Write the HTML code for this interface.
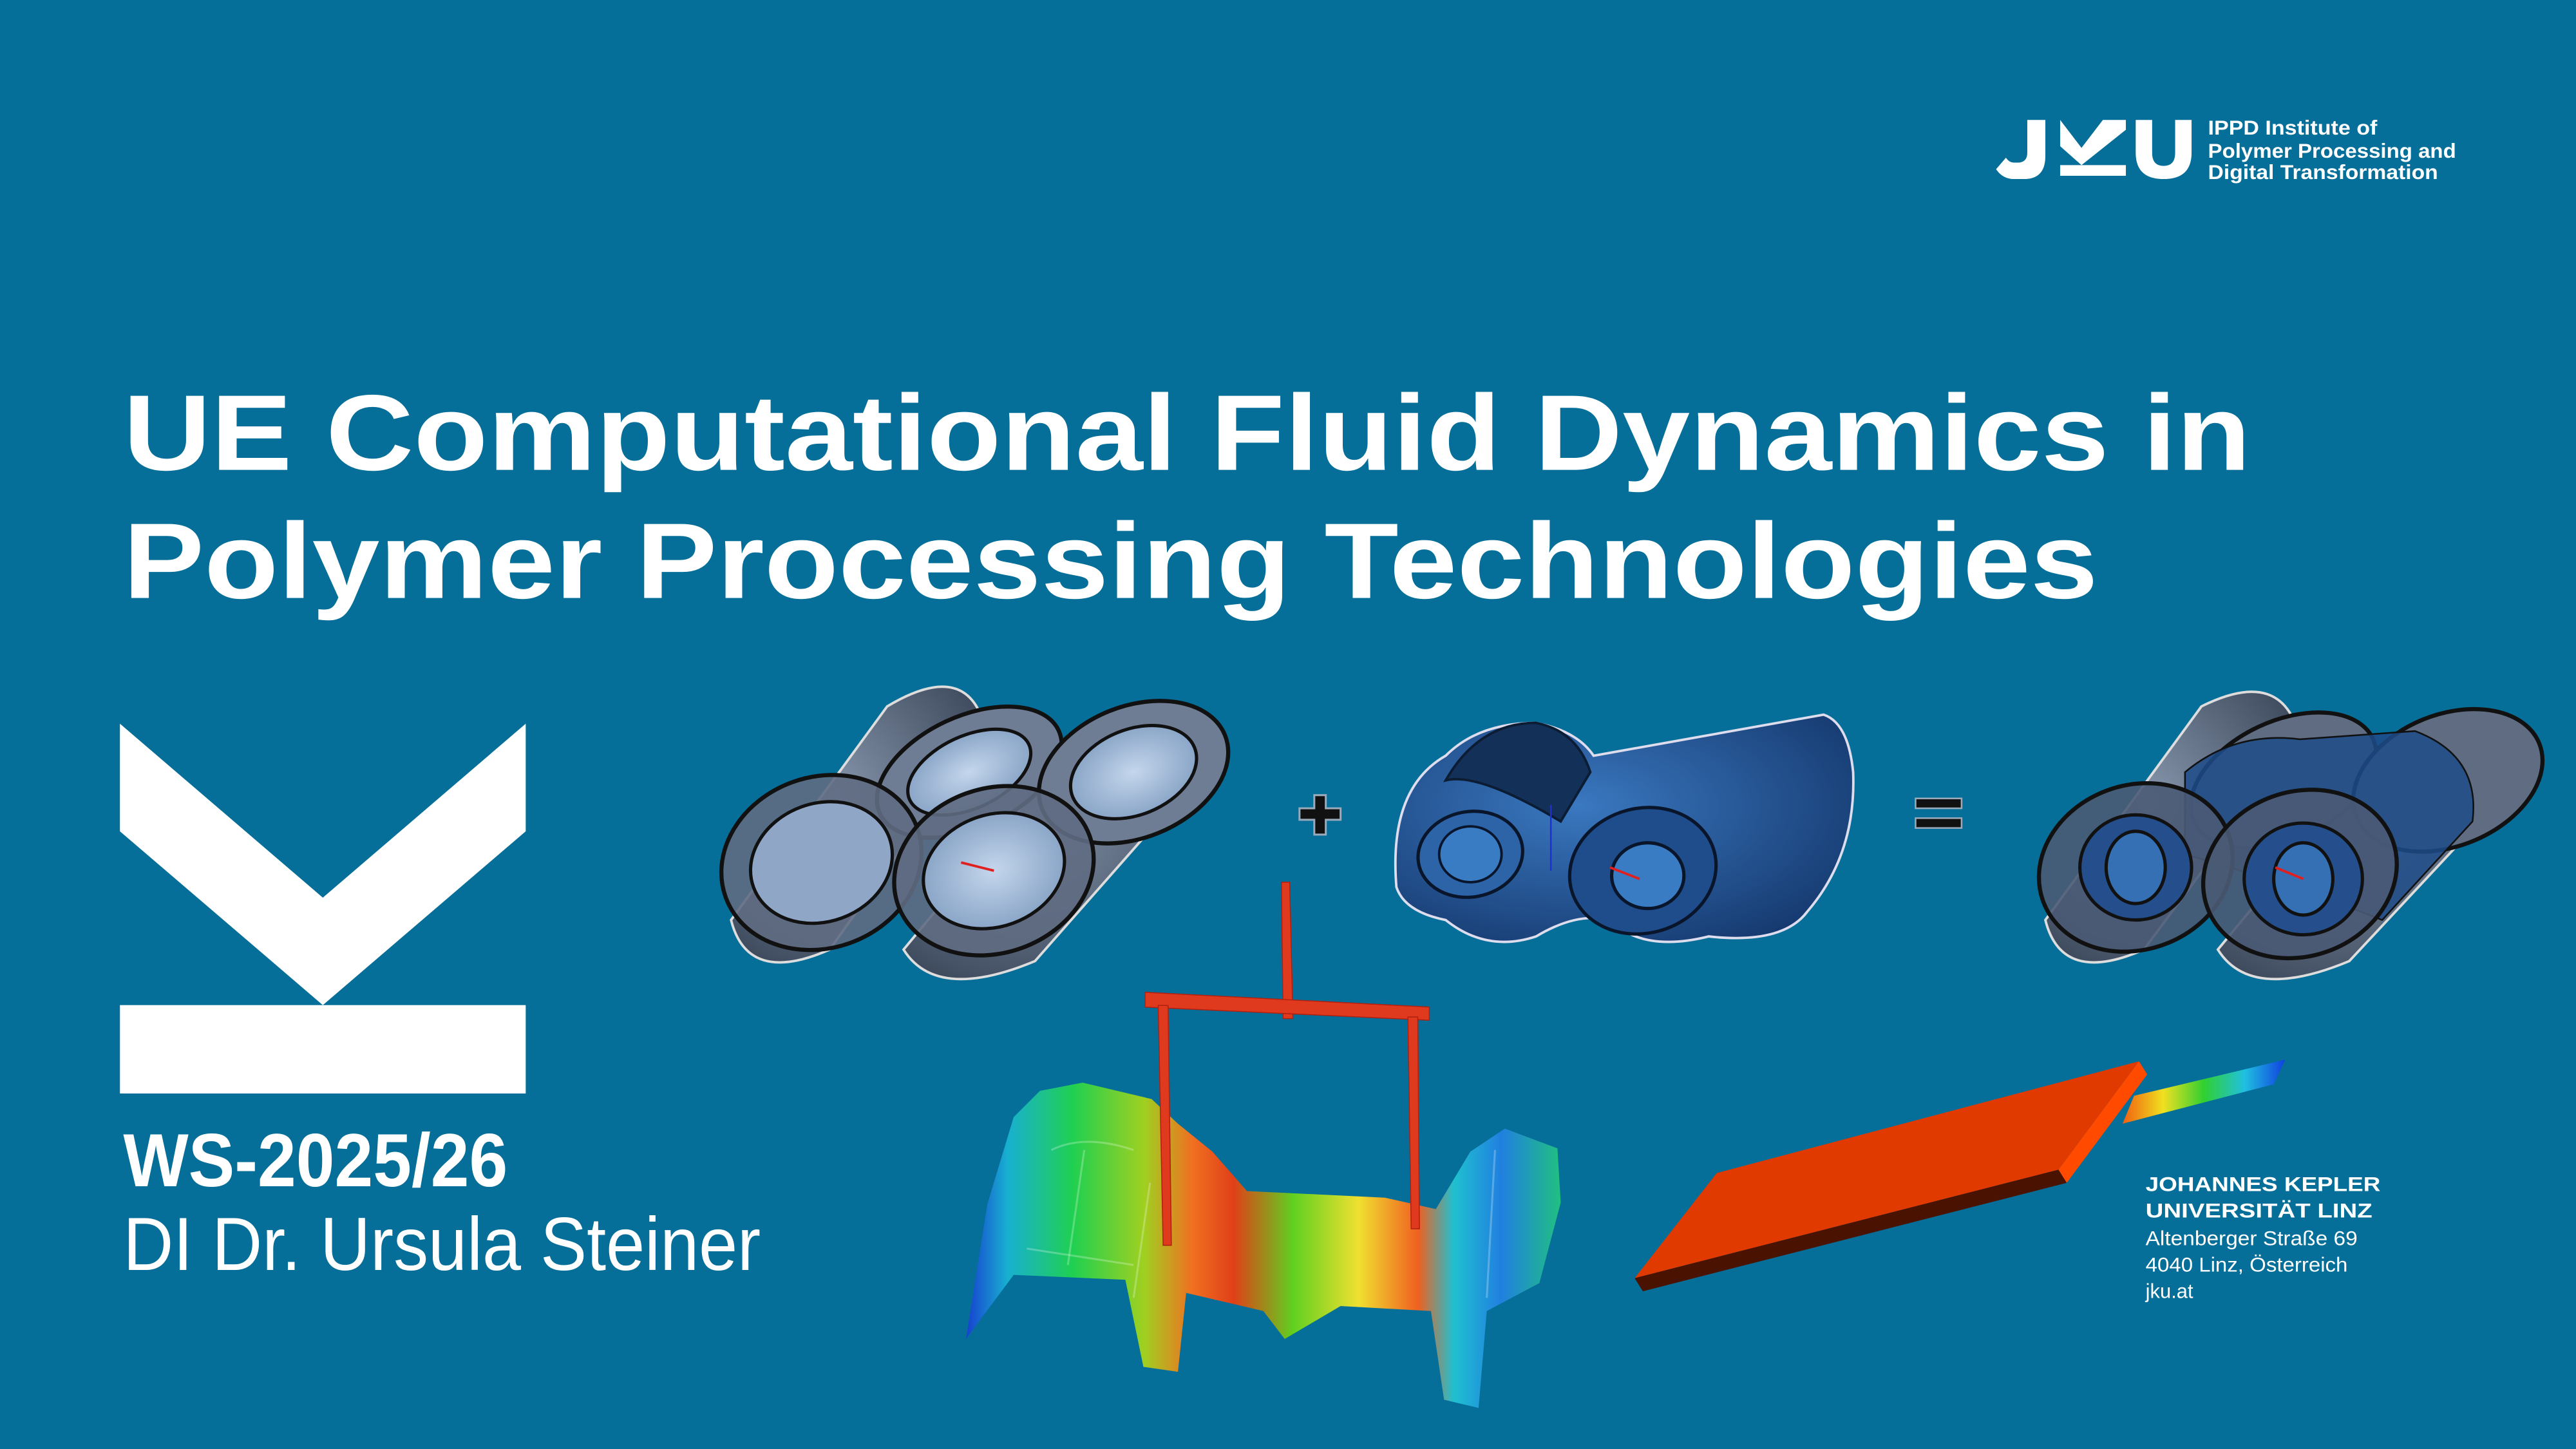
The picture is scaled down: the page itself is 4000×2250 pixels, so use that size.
<!DOCTYPE html>
<html><head><meta charset="utf-8"><style>
html,body{margin:0;padding:0;background:#066f99;}
svg{display:block;}
</style></head><body>
<svg width="4000" height="2250" viewBox="0 0 1568 882" xmlns="http://www.w3.org/2000/svg" font-family="'Liberation Sans', Arial, sans-serif">
<defs>
<linearGradient id="car" x1="588" y1="0" x2="950" y2="0" gradientUnits="userSpaceOnUse">
<stop offset="0" stop-color="#1740d0"/><stop offset="0.07" stop-color="#18b0d0"/><stop offset="0.18" stop-color="#20d050"/><stop offset="0.3" stop-color="#a0d020"/><stop offset="0.38" stop-color="#f07020"/><stop offset="0.45" stop-color="#e04018"/><stop offset="0.55" stop-color="#60d020"/><stop offset="0.66" stop-color="#f0e030"/><stop offset="0.76" stop-color="#f06020"/><stop offset="0.82" stop-color="#20c0d0"/><stop offset="0.9" stop-color="#2080e0"/><stop offset="1" stop-color="#20c080"/>
</linearGradient>
<linearGradient id="strip" x1="1292" y1="0" x2="1391" y2="0" gradientUnits="userSpaceOnUse">
<stop offset="0" stop-color="#f06010"/><stop offset="0.25" stop-color="#f0e020"/><stop offset="0.5" stop-color="#30d030"/><stop offset="0.75" stop-color="#20c0e0"/><stop offset="1" stop-color="#1040e0"/>
</linearGradient>
<radialGradient id="gr" cx="0.4" cy="0.4" r="0.7"><stop offset="0" stop-color="#8796ad"/><stop offset="1" stop-color="#3a4658"/></radialGradient>
<radialGradient id="bl" cx="0.4" cy="0.4" r="0.7"><stop offset="0" stop-color="#3a78c0"/><stop offset="1" stop-color="#163a70"/></radialGradient>
<radialGradient id="lt" cx="0.5" cy="0.5" r="0.6"><stop offset="0" stop-color="#c4d6ec"/><stop offset="1" stop-color="#7f9cc0"/></radialGradient>
</defs>
<rect width="1568" height="882" fill="#066f99"/>

<g fill="#fff">
<path d="M1234,73 h11 v22 q0,14 -13,14 h-6 q-7,0 -11,-6 l6,-7 q2,3 5,3 h2 q6,0 6,-6 z"/>
<polygon points="1254,73 1267,90 1280,73 1294,73 1294,79 1267,100.5 1254,89"/>
<rect x="1254" y="100.5" width="40" height="6.5"/>
<path d="M1300,73 h10 v20 q0,8 7,8 q7,0 7,-8 v-20 h10 v20 q0,16 -17,16 q-17,0 -17,-16 z"/>
</g>
<g fill="#fff" font-weight="bold" font-size="12.3">
<text x="1344" y="82" textLength="103" lengthAdjust="spacingAndGlyphs">IPPD Institute of</text>
<text x="1344" y="96" textLength="151" lengthAdjust="spacingAndGlyphs">Polymer Processing and</text>
<text x="1344" y="109" textLength="140" lengthAdjust="spacingAndGlyphs">Digital Transformation</text>
</g>

<g fill="#fff" font-weight="bold" font-size="65.5">
<text x="75" y="286" textLength="1295" lengthAdjust="spacingAndGlyphs">UE Computational Fluid Dynamics in</text>
<text x="75" y="364" textLength="1202" lengthAdjust="spacingAndGlyphs">Polymer Processing Technologies</text>
</g>

<g fill="#fff">
<polygon points="73,440.5 196.5,546.4 320,440.5 320,506 196.5,611.8 73,506"/>
<rect x="73" y="611.8" width="247" height="53.8"/>
</g>
<text x="75" y="722" fill="#fff" font-weight="bold" font-size="46" textLength="234" lengthAdjust="spacingAndGlyphs">WS-2025/26</text>
<text x="75" y="773" fill="#fff" font-size="46" textLength="388" lengthAdjust="spacingAndGlyphs">DI Dr. Ursula Steiner</text>

<g stroke="#111" stroke-width="2.5">
<path d="M445,560 L540,430 Q590,400 600,445 L505,578 Q455,600 445,560 Z" fill="url(#gr)" stroke="#ddd" stroke-width="1.5"/>
<path d="M550,578 L660,445 Q720,410 740,460 L630,585 Q570,610 550,578 Z" fill="url(#gr)" stroke="#ddd" stroke-width="1.5"/>
<ellipse cx="590" cy="470" rx="60" ry="34" transform="rotate(-25 590 470)" fill="#6e7d94"/>
<ellipse cx="590" cy="470" rx="40" ry="22" transform="rotate(-25 590 470)" fill="url(#lt)" stroke-width="2"/>
<ellipse cx="690" cy="470" rx="60" ry="40" transform="rotate(-22 690 470)" fill="#6e7d94"/>
<ellipse cx="690" cy="470" rx="40" ry="26" transform="rotate(-22 690 470)" fill="url(#lt)" stroke-width="2"/>
<ellipse cx="500" cy="525" rx="62" ry="52" transform="rotate(-20 500 525)" fill="#5f6c82" fill-opacity="0.9"/>
<ellipse cx="500" cy="525" rx="44" ry="36" transform="rotate(-20 500 525)" fill="#8fa6c6" stroke-width="2"/>
<ellipse cx="605" cy="530" rx="62" ry="50" transform="rotate(-20 605 530)" fill="#5f6c82" fill-opacity="0.9"/>
<ellipse cx="605" cy="530" rx="44" ry="34" transform="rotate(-20 605 530)" fill="url(#lt)" stroke-width="2"/>
</g>
<line x1="585" y1="525" x2="605" y2="530" stroke="#e02020" stroke-width="1.5"/>

<path d="M800,484 h7 v8 h9 v7 h-9 v9 h-7 v-9 h-9 v-7 h9 z" fill="#111" stroke="#9ab" stroke-width="1.2"/>

<g stroke="#0b1c33" stroke-width="1.5">
<path d="M850,540 Q845,480 880,460 Q900,440 935,440 Q960,445 970,460 L1110,435 Q1125,440 1128,470 Q1130,520 1100,555 Q1085,575 1040,570 Q1000,580 980,560 Q960,555 935,570 Q905,580 880,560 Q855,555 850,540 Z" fill="url(#bl)" stroke="#dde" stroke-width="1.5"/>
<path d="M935,440 Q960,445 968,470 L950,500 Q900,470 880,475 Q900,440 935,440 Z" fill="#123058"/>
<ellipse cx="895" cy="520" rx="32" ry="26" transform="rotate(-10 895 520)" fill="#2d64a8" stroke="#08152a" stroke-width="2"/>
<ellipse cx="895" cy="520" rx="19" ry="17" fill="#3a7cc4" stroke="#08152a"/>
<ellipse cx="1000" cy="530" rx="45" ry="38" transform="rotate(-15 1000 530)" fill="#1f4c8a" stroke="#08152a" stroke-width="2"/>
<ellipse cx="1003" cy="533" rx="22" ry="20" fill="#3a7cc4" stroke="#08152a" stroke-width="2"/>
</g>
<line x1="980" y1="528" x2="998" y2="535" stroke="#e02020" stroke-width="1.5"/>
<line x1="944" y1="490" x2="944" y2="530" stroke="#2030d0" stroke-width="1"/>

<rect x="1166" y="486" width="28" height="6" fill="#111" stroke="#9ab" stroke-width="1"/>
<rect x="1166" y="498" width="28" height="6" fill="#111" stroke="#9ab" stroke-width="1"/>

<g stroke="#111" stroke-width="2.5">
<path d="M1245,560 L1340,430 Q1390,405 1400,450 L1305,578 Q1255,600 1245,560 Z" fill="url(#gr)" stroke="#ddd" stroke-width="1.5"/>
<path d="M1350,578 L1460,445 Q1520,415 1542,465 L1430,585 Q1370,610 1350,578 Z" fill="url(#gr)" stroke="#ddd" stroke-width="1.5"/>
<ellipse cx="1390" cy="475" rx="60" ry="36" transform="rotate(-25 1390 475)" fill="#5f6c82"/>
<ellipse cx="1490" cy="475" rx="60" ry="40" transform="rotate(-22 1490 475)" fill="#5f6c82"/>
<path d="M1330,470 Q1360,445 1400,450 L1470,445 Q1510,460 1505,500 L1450,560 Q1400,540 1330,520 Z" fill="#1f4c8a" fill-opacity="0.85" stroke-width="1"/>
<ellipse cx="1300" cy="528" rx="60" ry="50" transform="rotate(-20 1300 528)" fill="#4a5a74" fill-opacity="0.9"/>
<ellipse cx="1300" cy="528" rx="34" ry="32" fill="#244f8c" stroke-width="2"/>
<ellipse cx="1300" cy="528" rx="18" ry="22" fill="#3570b4" stroke-width="2"/>
<ellipse cx="1400" cy="532" rx="60" ry="50" transform="rotate(-20 1400 532)" fill="#4a5a74" fill-opacity="0.9"/>
<ellipse cx="1402" cy="535" rx="36" ry="34" fill="#244f8c" stroke-width="2"/>
<ellipse cx="1402" cy="535" rx="18" ry="22" fill="#3570b4" stroke-width="2"/>
</g>
<line x1="1385" y1="528" x2="1402" y2="535" stroke="#e02020" stroke-width="1.5"/>

<polygon fill="url(#car)" points="617,680 633,664 659,659 701,669 717,684 738,701 759,725 843,729 874,736 895,701 916,687 948,699 950,732 937,781 905,798 900,857 879,852 871,798 816,795 782,815 769,798 722,787 717,835 696,832 685,779 617,776 588,815 601,733"/>
<g stroke="#fff" stroke-opacity="0.25" stroke-width="1.2" fill="none">
<path d="M640,700 Q660,690 690,700"/><path d="M625,760 L690,770"/><path d="M660,700 L650,770"/><path d="M910,700 L905,790"/><path d="M700,720 L690,790"/>
</g>
<g fill="#e03a1e" stroke="#b02010" stroke-width="0.6">
<polygon points="780,537 785,537 787,620 781,620"/>
<polygon points="697,604 870,613 870,621 697,613"/>
<polygon points="705,612 711,612 713,758 708,758"/>
<polygon points="857,619 863,619 864,748 859,748"/>
</g>

<polygon points="995,778 1045,714 1302,646 1253,712" fill="#e03a00"/>
<polygon points="1253,712 1302,646 1307,654 1258,720" fill="#ff4a00"/>
<polygon points="995,778 1253,712 1258,720 1000,786" fill="#4a1200"/>
<polygon points="1292,684 1299,667 1391,645 1384,660" fill="url(#strip)"/>

<g fill="#fff" font-size="12.5">
<text x="1306" y="725" font-weight="bold" textLength="143" lengthAdjust="spacingAndGlyphs">JOHANNES KEPLER</text>
<text x="1306" y="741" font-weight="bold" textLength="138" lengthAdjust="spacingAndGlyphs">UNIVERSITÄT LINZ</text>
<text x="1306" y="758" textLength="129" lengthAdjust="spacingAndGlyphs">Altenberger Straße 69</text>
<text x="1306" y="774" textLength="123" lengthAdjust="spacingAndGlyphs">4040 Linz, Österreich</text>
<text x="1306" y="790" textLength="29" lengthAdjust="spacingAndGlyphs">jku.at</text>
</g>
</svg>
</body></html>
